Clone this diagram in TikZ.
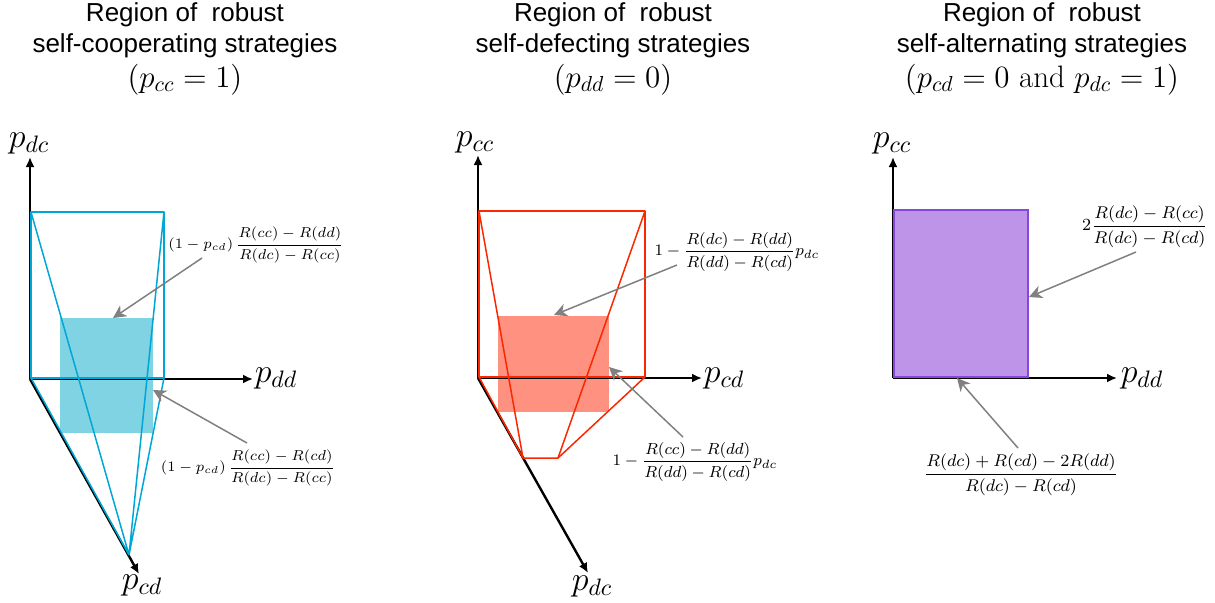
\RequirePackage{fix-cm}
\documentclass[tikz,border=0pt]{standalone}
\usepackage{amsmath}
\usepackage{fontspec}
\newfontfamily\arial{Liberation Sans}
\usetikzlibrary{arrows.meta}
\definecolor{blueline}{RGB}{0,166,214}
\definecolor{bluefill}{RGB}{128,211,227}
\definecolor{redline}{RGB}{250,40,0}
\definecolor{redfill}{RGB}{255,145,128}
\definecolor{purpline}{RGB}{135,70,220}
\definecolor{purpfill}{RGB}{190,148,232}
\definecolor{annogray}{RGB}{128,128,128}
\tikzset{
 axis/.style={line width=1.2pt, -{Latex[length=5pt,width=4.5pt]}},
 ann/.style={draw=annogray, line width=0.75pt, -{Stealth[length=6.5pt,width=6.5pt,inset=2pt]}},
 ttl/.style={font=\arial\fontsize{13}{15}\selectfont, anchor=base, inner sep=0},
 ttlm/.style={font=\fontsize{15.5}{18}\selectfont, anchor=base, inner sep=0},
 axlab/.style={font=\fontsize{17}{20}\selectfont, inner sep=0},
 formula/.style={font=\fontsize{8.5}{10}\selectfont, inner sep=0},
 formulas/.style={font=\fontsize{7.2}{9}\selectfont, inner sep=0},
 formulam/.style={font=\fontsize{8}{10}\selectfont, inner sep=0},
 bline/.style={draw=blueline, line width=0.75pt, line join=round},
 rline/.style={draw=redline, line width=0.75pt, line join=round},
}
\begin{document}
\begin{tikzpicture}[x=0.5pt,y=-0.5pt]
\useasboundingbox (0,0) rectangle (1215,602);
% ---------- titles
\node[ttl] (t1a) at (185,21) {Region of\ \ robust};
\node[ttl] (t1b) at (185,52) {self-cooperating strategies};
\node[ttlm] (t1c) at (185,87) {$(p_{cc}=1)$};
\node[ttl] (t2a) at (613,21) {Region of\ \ robust};
\node[ttl] (t2b) at (613,52) {self-defecting strategies};
\node[ttlm] (t2c) at (613,87) {$(p_{dd}=0)$};
\node[ttl] (t3a) at (1042,21) {Region of\ \ robust};
\node[ttl] (t3b) at (1042,52) {self-alternating strategies};
\node[ttlm] (t3c) at (1042,87) {$(p_{cd}=0\text{ and }p_{dc}=1)$};

% ---------- panel 1
\fill[bluefill] (60,318) rectangle (153,433);
\coordinate (o1) at (30,379);
\coordinate (y1) at (30,157);
\coordinate (x1) at (253,379);
\coordinate (z1) at (139,574);
\draw[axis] (o1) -- (y1);
\draw[axis] (o1) -- (x1);
\draw[axis] (o1) -- (z1);
\coordinate (a1) at (31,212);
\coordinate (b1) at (164,212);
\coordinate (c1) at (164,378);
\coordinate (d1) at (31,378);
\coordinate (p1) at (129,555);
\draw[bline] (d1) -- (a1) -- (b1) -- (c1) -- cycle;
\draw[bline] (a1) -- (p1) (b1) -- (p1) (c1) -- (p1) (d1) -- (p1);
\node[axlab] (l1y) at (29,143) {$p_{dc}$};
\node[axlab] (l1x) at (276,378) {$p_{dd}$};
\node[axlab] (l1z) at (142,585) {$p_{cd}$};
\node[formulas] (f1a) at (256,245) {$(1-p_{cd})\,\dfrac{R(cc)-R(dd)}{R(dc)-R(cc)}$};
\node[formulas] (f1b) at (248,468) {$(1-p_{cd})\,\dfrac{R(cc)-R(cd)}{R(dc)-R(cc)}$};
\coordinate (s1a) at (202,258);
\coordinate (e1a) at (113,318);
\coordinate (s1b) at (247,443);
\coordinate (e1b) at (153,390);
\draw[ann] (s1a) -- (e1a);
\draw[ann] (s1b) -- (e1b);

% ---------- panel 2
\fill[redfill] (498,316) rectangle (609,412);
\coordinate (o2) at (478,378);
\coordinate (y2) at (478,155);
\coordinate (x2) at (702,378);
\coordinate (z2) at (588,573);
\draw[axis] (o2) -- (y2);
\draw[axis] (o2) -- (x2);
\draw[axis] (o2) -- (z2);
\coordinate (a2) at (479,211);
\coordinate (b2) at (645,211);
\coordinate (c2) at (645,377);
\coordinate (d2) at (479,377);
\coordinate (e2) at (523,458);
\coordinate (g2) at (558,458);
\draw[rline] (d2) -- (a2) -- (b2) -- (c2) -- cycle;
\draw[rline] (d2) -- (e2) -- (g2) -- (c2);
\draw[rline] (a2) -- (e2) (b2) -- (g2);
\node[axlab] (l2y) at (475,142) {$p_{cc}$};
\node[axlab] (l2x) at (724,378) {$p_{cd}$};
\node[axlab] (l2z) at (592,586) {$p_{dc}$};
\node[formulam] (f2a) at (737,252) {$1-\dfrac{R(dc)-R(dd)}{R(dd)-R(cd)}p_{dc}$};
\node[formulam] (f2b) at (695,462) {$1-\dfrac{R(cc)-R(dd)}{R(dd)-R(cd)}p_{dc}$};
\coordinate (s2a) at (677,265);
\coordinate (e2a) at (554,315);
\coordinate (s2b) at (683,437);
\coordinate (e2b) at (609,367);
\draw[ann] (s2a) -- (e2a);
\draw[ann] (s2b) -- (e2b);

% ---------- panel 3
\coordinate (o3) at (893,378);
\coordinate (y3) at (893,157);
\coordinate (x3) at (1117,378);
\draw[axis] (o3) -- (y3);
\draw[axis] (o3) -- (x3);
\draw[draw=purpline, fill=purpfill, line width=0.75pt] (894,210) rectangle (1028,377);
\node[axlab] (l3y) at (892,143) {$p_{cc}$};
\node[axlab] (l3x) at (1142,378) {$p_{dd}$};
\node[formula] (f3a) at (1145,227) {$2\dfrac{R(dc)-R(cc)}{R(dc)-R(cd)}$};
\node[formula] (f3b) at (1021,475) {$\dfrac{R(dc)+R(cd)-2R(dd)}{R(dc)-R(cd)}$};
\coordinate (s3a) at (1136,252);
\coordinate (e3a) at (1029,297);
\coordinate (s3b) at (1018,448);
\coordinate (e3b) at (957,378);
\draw[ann] (s3a) -- (e3a);
\draw[ann] (s3b) -- (e3b);
\end{tikzpicture}
\end{document}
